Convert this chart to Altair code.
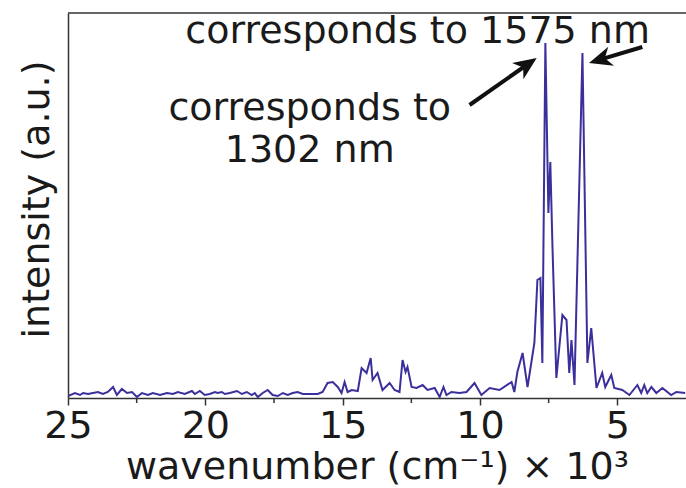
import altair as alt
import pandas as pd

# spectrum (wavenumber in 10^3 cm^-1, intensity in a.u.)
wavenumber = [25.00, 24.75, 24.56, 24.45, 24.27, 24.09, 23.91, 23.73, 23.55, 23.36,
              23.22, 23.04, 22.85, 22.67, 22.49, 22.31, 22.09, 21.91, 21.65, 21.40,
              21.18, 21.00, 20.75, 20.49, 20.38, 20.20, 20.02, 19.84, 19.65, 19.55,
              19.40, 19.29, 19.11, 18.85, 18.67, 18.49, 18.31, 18.20, 18.09, 17.91,
              17.73, 17.55, 17.36, 17.18, 17.00, 16.82, 16.64, 16.45, 16.20, 15.91,
              15.73, 15.55, 15.36, 15.18, 15.04, 14.93, 14.82, 14.67, 14.45, 14.31,
              14.13, 13.98, 13.91, 13.73, 13.55, 13.29, 13.11, 12.93, 12.82, 12.71,
              12.64, 12.49, 12.31, 12.09, 11.91, 11.65, 11.47, 11.33, 11.22, 11.04,
              10.75, 10.49, 10.20, 9.95, 9.65, 9.29, 8.85, 8.75, 8.64, 8.45,
              8.27, 8.02, 7.91, 7.80, 7.73, 7.62, 7.51, 7.44, 7.36, 7.22,
              7.00, 6.85, 6.75, 6.67, 6.56, 6.27, 6.09, 5.95, 5.76, 5.55,
              5.44, 5.22, 5.11, 4.82, 4.56, 4.27, 4.13, 4.02, 3.91, 3.76,
              3.58, 3.36, 3.04, 2.85, 2.53]
intensity = [2, 5, 3, 5, 4, 5, 6, 4, 6, 11,
             3, 9, 5, 6, 1, 5, 3, 5, 3, 5,
             4, 6, 4, 7, 4, 7, 3, 4, 6, 5,
             6, 4, 5, 7, 4, 6, 3, 5, 1, 5,
             8, 3, 2, 5, 3, 5, 6, 4, 4, 4,
             6, 15, 16, 11, 5, 16, 6, 8, 7, 30,
             25, 40, 18, 25, 8, 15, 8, 6, 38, 26,
             31, 11, 10, 13, 8, 10, 1, 11, 3, 6,
             5, 6, 15, 3, 10, 8, 16, 6, 26, 45,
             11, 55, 118, 120, 35, 355, 185, 236, 150, 20,
             83, 78, 25, 58, 13, 345, 35, 70, 10, 25,
             11, 23, 10, 8, 3, 13, 5, 13, 5, 11,
             5, 10, 3, 6, 5]

major_ticks = [25, 20, 15, 10, 5]
minor_ticks = [22.5, 17.5, 12.5, 7.5]

# annotations
ann_text = ["corresponds to 1575 nm", "corresponds to", "1302 nm"]
ann_x = [12.27, 16.20, 16.20]
ann_y = [355, 278, 236]

arrow_x = [10.38, 4.09]
arrow_y = [293, 351]
arrow_x2 = [8.33, 5.57]
arrow_y2 = [332.5, 338.8]
arrow_angle = [55, 253]

FONT = "DejaVu Sans"
FS = 38
W, H = 618, 385

df = pd.DataFrame({"wavenumber": wavenumber, "intensity": intensity})
ann = pd.DataFrame({"text": ann_text, "wavenumber": ann_x, "intensity": ann_y})
arr = pd.DataFrame({"wavenumber": arrow_x, "intensity": arrow_y,
                    "wn_end": arrow_x2, "int_end": arrow_y2, "angle": arrow_angle})
minor_df = pd.DataFrame({"wavenumber": minor_ticks})

x_scale = alt.Scale(domain=[2.5, 25], reverse=True, nice=False, zero=False)
y_scale = alt.Scale(domain=[0, 385], nice=False, zero=False)

x_axis = alt.Axis(values=major_ticks, format="d", grid=False, tickSize=7,
                  labelPadding=2, labelFontSize=FS, labelFont=FONT,
                  labelFlush=False, labelOverlap=False,
                  labelColor="#1a1a1a", title="wavenumber (cm⁻¹) × 10³",
                  titleFontSize=FS, titleFont=FONT, titleFontWeight="normal",
                  titleColor="#1a1a1a", titleBaseline="alphabetic", titleY=80)
y_axis = alt.Axis(labels=False, ticks=False, grid=False,
                  title="intensity (a.u.)", titleFontSize=FS, titleFont=FONT,
                  titleFontWeight="normal", titleColor="#1a1a1a",
                  titleBaseline="alphabetic", titleX=-20, titleY=186)

X = alt.X("wavenumber:Q", scale=x_scale, axis=x_axis)
Y = alt.Y("intensity:Q", scale=y_scale, axis=y_axis)

line = alt.Chart(df).mark_line(color="#3b2f9c", strokeWidth=2, clip=True).encode(
    x=X, y=Y)

minor = alt.Chart(minor_df).mark_rule(color="#333333", strokeWidth=1.5).encode(
    x=X, y=alt.value(H), y2=alt.value(H + 5))

top_border = alt.Chart(pd.DataFrame({"a": [0]})).mark_rule(
    color="#333333", strokeWidth=1.5).encode(
    x=alt.value(0), x2=alt.value(W), y=alt.value(0))

text = alt.Chart(ann).mark_text(font=FONT, fontSize=FS, color="#1a1a1a",
                                align="center", baseline="alphabetic").encode(
    x=X, y=Y, text="text:N")

arrow_lines = alt.Chart(arr).mark_rule(color="#111111", strokeWidth=4).encode(
    x=X, y=Y, x2="wn_end:Q", y2="int_end:Q")

arrow_heads = alt.Chart(arr).mark_point(
    shape="M0,-1L0.75,0.75L0,0.25L-0.75,0.75Z", filled=True, color="#111111",
    size=700, opacity=1).encode(
    x=alt.X("wn_end:Q", scale=x_scale, axis=x_axis),
    y=alt.Y("int_end:Q", scale=y_scale, axis=y_axis),
    angle=alt.Angle("angle:Q", scale=None))

chart = alt.layer(line, minor, top_border, text, arrow_lines, arrow_heads).properties(
    width=W, height=H, autosize=alt.AutoSizeParams(type="none"),
    padding={"left": 68, "top": 13, "right": 0, "bottom": 90},
).configure_view(stroke=None).configure_axis(
    domainColor="#333333", domainWidth=1.5, tickColor="#333333", tickWidth=1.5
)

chart.save("out.html", embed_options={"renderer": "svg", "actions": False})
